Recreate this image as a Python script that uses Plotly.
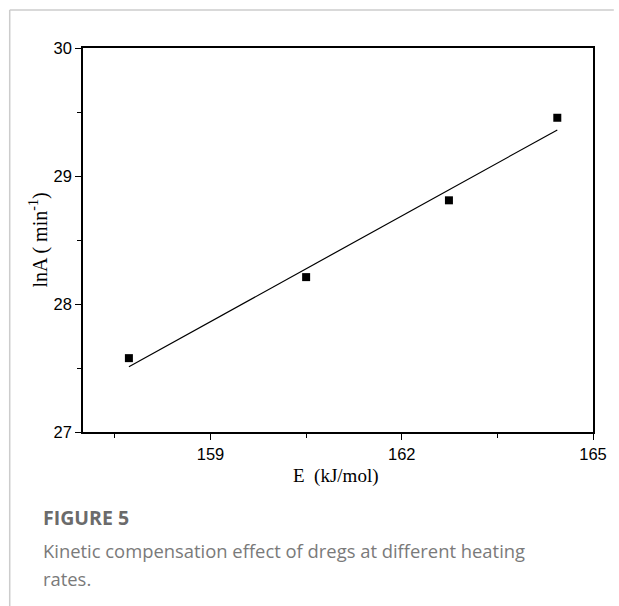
import plotly.graph_objects as go

# data
energy = [157.72, 160.50, 162.74, 164.44]
ln_a = [27.577, 28.21, 28.81, 29.455]
fit_x = [157.72, 164.44]
fit_y = [27.51, 29.36]

x_ticks = [159, 162, 165]
y_ticks = [27, 28, 29, 30]

W, H = 619, 606
L, R, T, B = 83, 598, 48, 432

def px(X):
    return (X - L) / (R - L)

def py(Y):
    return (B - Y) / (B - T)

fig = go.Figure()
fig.add_trace(go.Scatter(x=fit_x, y=fit_y, mode="lines",
                         line=dict(color="black", width=1.2), showlegend=False))
fig.add_trace(go.Scatter(x=energy, y=ln_a, mode="markers",
                         marker=dict(symbol="square", size=8, color="black"),
                         showlegend=False))

tick_font = dict(family="Liberation Sans, Arial", size=16.5, color="black")
axis_common = dict(showline=True, linecolor="black", linewidth=1.5, mirror=True,
                   ticks="outside", ticklen=6, tickwidth=1.2, tickcolor="black",
                   showgrid=False, zeroline=False, tickfont=tick_font,
                   minor=dict(ticks="outside", ticklen=4, tickwidth=1.2, tickcolor="black"))

fig.update_xaxes(range=[157, 165], tickvals=x_ticks, ticktext=[str(v) for v in x_ticks],
                 minor_tickvals=[157.5, 160.5, 163.5], **axis_common)
fig.update_yaxes(range=[27, 30], tickvals=y_ticks, ticktext=[str(v) for v in y_ticks],
                 minor_tickvals=[27.5, 28.5, 29.5], **axis_common)

serif = "Liberation Serif, Times New Roman"
sans = "Open Sans, Noto Sans"
annotations = [
    dict(text="E  (kJ/mol)", x=px(338), y=py(476), xref="paper", yref="paper",
         showarrow=False, font=dict(family=serif, size=19, color="black"),
         xanchor="center", yanchor="middle"),
    dict(text="lnA ( min<sup>-1</sup>)", x=px(38), y=py(240), xref="paper", yref="paper",
         showarrow=False, textangle=-90,
         font=dict(family=serif, size=20, color="black"),
         xanchor="center", yanchor="middle"),
    dict(text="<b>FIGURE 5</b>", x=px(41), y=py(517), xref="paper", yref="paper",
         showarrow=False, font=dict(family=sans, size=19.5, color="#6b6b6b"),
         xanchor="left", yanchor="middle"),
    dict(text="Kinetic compensation effect of dregs at different heating", x=px(41), y=py(550),
         xref="paper", yref="paper", showarrow=False,
         font=dict(family=sans, size=18.4, color="#7a7a7a"),
         xanchor="left", yanchor="middle"),
    dict(text="rates.", x=px(41), y=py(578), xref="paper", yref="paper", showarrow=False,
         font=dict(family=sans, size=18.4, color="#7a7a7a"),
         xanchor="left", yanchor="middle"),
]

shapes = [
    dict(type="line", xref="paper", yref="paper", x0=px(9), x1=px(9), y0=py(10), y1=py(606),
         line=dict(color="#cccccc", width=1.5)),
    dict(type="line", xref="paper", yref="paper", x0=px(9), x1=px(619), y0=py(10), y1=py(10),
         line=dict(color="#cccccc", width=1.5)),
]

fig.update_layout(width=W, height=H, margin=dict(l=L, r=W - R, t=T, b=H - B),
                  paper_bgcolor="white", plot_bgcolor="white",
                  annotations=annotations, shapes=shapes)

fig.write_html("out.html")
